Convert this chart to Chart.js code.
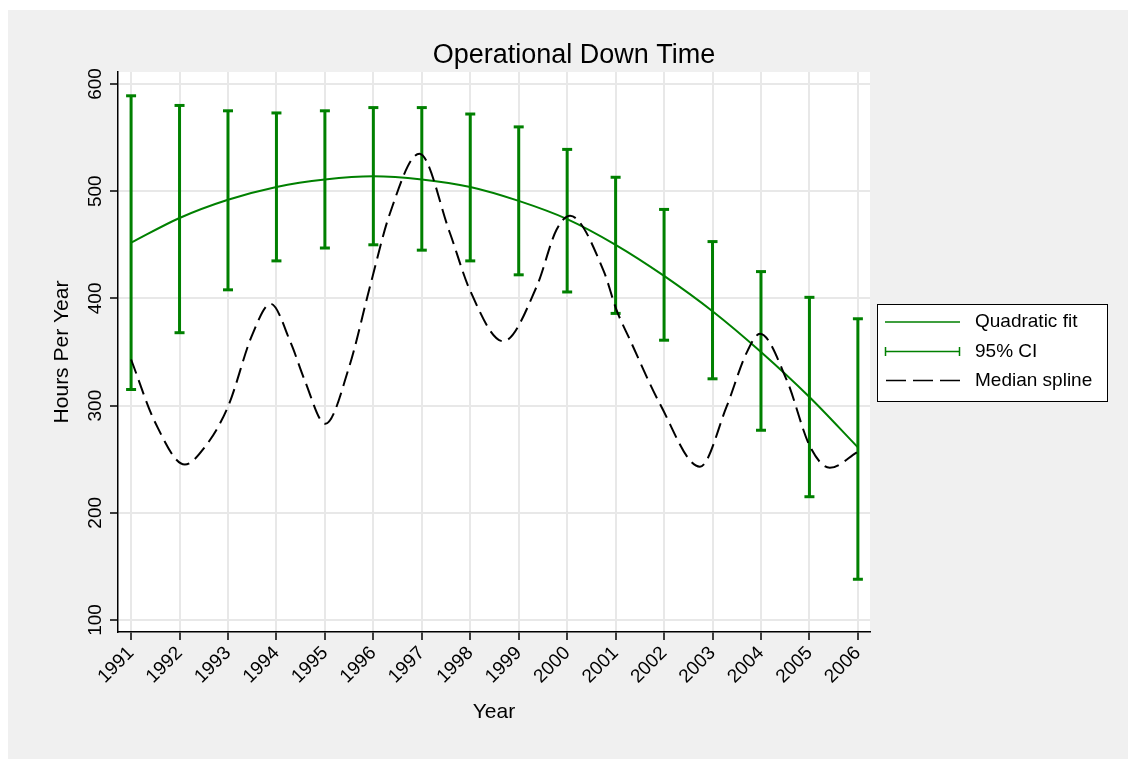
<!DOCTYPE html>
<html>
<head>
<meta charset="utf-8">
<script src="https://cdn.jsdelivr.net/npm/chart.js@4.4.1/dist/chart.umd.min.js"></script>
<style>
  html, body { margin: 0; padding: 0; background: #fff; }
  canvas { display: block; }
</style>
</head>
<body>
<canvas id="downTimeChart" width="1128" height="759"></canvas>
<script>
var years = [1991, 1992, 1993, 1994, 1995, 1996, 1997, 1998, 1999, 2000, 2001, 2002, 2003, 2004, 2005, 2006];
var quadFit = [452, 475, 492, 504, 511, 514, 511, 504, 491, 474, 450, 421, 388, 350, 308, 261];
var ciUpper = [589, 580, 575, 573, 575, 578, 578, 572, 560, 539, 513, 483, 453, 425, 401, 381];
var ciLower = [315, 368, 408, 435, 447, 450, 445, 435, 422, 406, 386, 361, 325, 277, 215, 138];

// median spline
var splineYears = [1991, 1991.5, 1992.11, 1992.5, 1993, 1993.5, 1993.88, 1994.3, 1994.58, 1995.01, 1995.5, 1995.93, 1996.34, 1996.95,
  1997.58, 1997.99, 1998.68, 1999.37, 1999.78, 2000.06, 2000.75, 2001.02, 2001.3, 2001.91, 2002.74, 2003.29, 2003.7, 2003.98,
  2004.53, 2005.01, 2005.42, 2006];
var splineValues = [343, 284, 245, 260, 299, 366, 395, 358, 324, 283, 336, 411, 479, 535,
  461, 408, 360, 411, 464, 477, 426, 389, 361, 302, 243, 299, 349, 367,
  324, 262, 242, 257];

var yTicks = [100, 200, 300, 400, 500, 600];

var green = '#008000';
var fontFamily = "'Liberation Sans', Arial, sans-serif";
Chart.defaults.font.family = fontFamily;
Chart.defaults.color = '#000';

// vertical CI segments, broken by gaps
var ciSegments = [];
var ciCaps = [];
years.forEach(function (yr, i) {
    ciSegments.push({ x: yr, y: ciLower[i] }, { x: yr, y: ciUpper[i] }, { x: yr, y: null });
    ciCaps.push({ x: yr, y: ciLower[i] }, { x: yr, y: ciUpper[i] });
});

var backdrop = {
    id: 'backdrop',
    beforeDraw: function (chart) {
        var ctx = chart.ctx, a = chart.chartArea;
        ctx.save();
        ctx.fillStyle = '#fff';
        ctx.fillRect(0, 0, chart.width, chart.height);
        ctx.fillStyle = '#f0f0f0';
        ctx.fillRect(8, 10, chart.width - 8, chart.height - 10);
        ctx.fillStyle = '#fff';
        ctx.fillRect(a.left, a.top, a.right - a.left, a.bottom - a.top);
        ctx.restore();
    }
};

var titleAndLegend = {
    id: 'titleAndLegend',
    afterDraw: function (chart) {
        var ctx = chart.ctx;
        ctx.save();
        ctx.fillStyle = '#000';
        ctx.font = '27px ' + fontFamily;
        ctx.textAlign = 'center';
        ctx.textBaseline = 'alphabetic';
        ctx.fillText('Operational Down Time', 574, 63);

        // legend box
        ctx.fillStyle = '#fff';
        ctx.fillRect(877, 304, 230, 97);
        ctx.strokeStyle = '#000';
        ctx.lineWidth = 1;
        ctx.strokeRect(877.5, 304.5, 230, 97);

        var rows = [322, 351.5, 380.5];
        ctx.lineWidth = 1.5;
        ctx.strokeStyle = green;
        ctx.beginPath();
        ctx.moveTo(885, rows[0]); ctx.lineTo(960, rows[0]);
        ctx.moveTo(885, rows[1]); ctx.lineTo(960, rows[1]);
        ctx.moveTo(885.5, rows[1] - 4.5); ctx.lineTo(885.5, rows[1] + 4.5);
        ctx.moveTo(959.5, rows[1] - 4.5); ctx.lineTo(959.5, rows[1] + 4.5);
        ctx.stroke();
        ctx.strokeStyle = '#000';
        ctx.setLineDash([20, 7]);
        ctx.beginPath();
        ctx.moveTo(886, rows[2]); ctx.lineTo(960, rows[2]);
        ctx.stroke();
        ctx.setLineDash([]);

        ctx.fillStyle = '#000';
        ctx.font = '19px ' + fontFamily;
        ctx.textAlign = 'left';
        ctx.textBaseline = 'middle';
        ctx.fillText('Quadratic fit', 975, rows[0]);
        ctx.fillText('95% CI', 975, rows[1]);
        ctx.fillText('Median spline', 975, rows[2]);
        ctx.restore();
    }
};

var ctx = document.getElementById('downTimeChart').getContext('2d');
var downTimeChart = new Chart(ctx, {
    type: 'line',
    data: {
        datasets: [{
            label: 'Median spline',
            data: splineYears.map(function (yr, i) { return { x: yr, y: splineValues[i] }; }),
            borderColor: '#000',
            borderWidth: 2,
            borderDash: [15, 7],
            cubicInterpolationMode: 'monotone',
            pointRadius: 0,
            fill: false,
            order: 0
        }, {
            label: 'Quadratic fit',
            data: years.map(function (yr, i) { return { x: yr, y: quadFit[i] }; }),
            borderColor: green,
            borderWidth: 2,
            cubicInterpolationMode: 'monotone',
            pointRadius: 0,
            fill: false,
            order: 1
        }, {
            label: '95% CI caps',
            data: ciCaps,
            showLine: false,
            pointStyle: 'line',
            pointRadius: 5,
            pointHoverRadius: 5,
            pointBorderWidth: 3,
            pointBorderColor: green,
            order: 2
        }, {
            label: '95% CI',
            data: ciSegments,
            borderColor: green,
            borderWidth: 3,
            pointRadius: 0,
            spanGaps: false,
            fill: false,
            order: 3
        }]
    },
    options: {
        responsive: false,
        animation: false,
        devicePixelRatio: 1,
        layout: { padding: { left: 49.4, right: 258, top: 72, bottom: 34.4 } },
        plugins: {
            legend: { display: false },
            title: { display: false },
            tooltip: { enabled: false }
        },
        scales: {
            x: {
                type: 'linear',
                min: 1990.73,
                max: 2006.25,
                afterBuildTicks: function (scale) {
                    scale.ticks = years.map(function (v) { return { value: v }; });
                },
                afterFit: function (scale) { scale.height = 92.6; },
                ticks: {
                    minRotation: 45,
                    maxRotation: 45,
                    padding: 2,
                    font: { size: 19 },
                    color: '#000',
                    callback: function (v) { return String(v); }
                },
                grid: { color: '#e8e8e8', lineWidth: 2, tickColor: '#000', tickWidth: 1.5, tickLength: 8 },
                border: { display: true, color: '#000', width: 1.5 },
                title: { display: true, text: 'Year', font: { size: 21 }, color: '#000', padding: 0 }
            },
            y: {
                min: 88.8,
                max: 611.2,
                afterBuildTicks: function (scale) {
                    scale.ticks = yTicks.map(function (v) { return { value: v }; });
                },
                afterFit: function (scale) { scale.width = 68.6; },
                ticks: {
                    minRotation: 90,
                    maxRotation: 90,
                    crossAlign: 'center',
                    padding: -2,
                    font: { size: 19 },
                    color: '#000',
                    callback: function (v) { return String(v); }
                },
                grid: { color: '#e8e8e8', lineWidth: 2, tickColor: '#000', tickWidth: 1.5, tickLength: 8 },
                border: { display: true, color: '#000', width: 1.5 },
                title: { display: true, text: 'Hours Per Year', font: { size: 21 }, color: '#000', padding: 0 }
            }
        }
    },
    plugins: [backdrop, titleAndLegend]
});
</script>
</body>
</html>
